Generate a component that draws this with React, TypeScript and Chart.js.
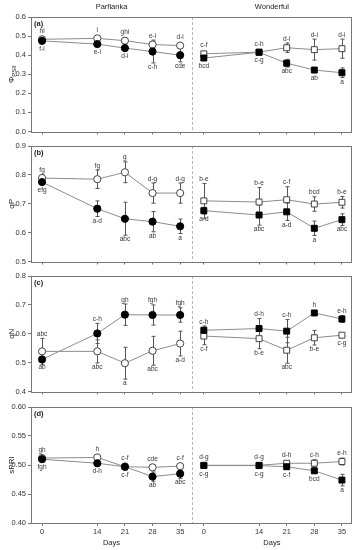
import React, { useEffect, useRef } from 'react';
import { Chart, registerables } from 'chart.js';
Chart.register(...registerables);

const FONT = '"Liberation Sans", Arial, sans-serif';

// Sampling days and x-axis layout
const days = [0, 14, 21, 28, 35];
const WON_OFFSET = 41; // Wonderful half shifted along the shared x scale
const X_MIN = -2.8;
const X_MAX = 78.5;
const DIVIDER = 38;
const cultivars = ['Parfianka', 'Wonderful'];

// (a) ΦPSII
const phiParOpen = [0.483, 0.488, 0.476, 0.456, 0.45];
const phiParOpenErr = [0.008, 0.01, 0.01, 0.012, 0.01];
const phiParOpenLet = ['hi', 'i', 'ghi', 'e-i', 'd-i'];
const phiParFilled = [0.475, 0.458, 0.437, 0.419, 0.4];
const phiParFilledErr = [0.008, 0.01, 0.015, 0.06, 0.035];
const phiParFilledLet = ['f-i', 'e-i', 'd-i', 'c-h', 'cde'];
const phiWonOpen = [0.407, 0.416, 0.439, 0.429, 0.434];
const phiWonOpenErr = [0.012, 0.01, 0.025, 0.055, 0.05];
const phiWonOpenLet = ['c-f', 'c-h', 'd-i', 'd-i', 'd-i'];
const phiWonFilled = [0.385, 0.415, 0.358, 0.322, 0.308];
const phiWonFilledErr = [0.01, 0.01, 0.02, 0.01, 0.025];
const phiWonFilledLet = ['bcd', 'c-g', 'abc', 'ab', 'a'];

// (b) qP
const qpParOpen = [0.789, 0.785, 0.809, 0.737, 0.737];
const qpParOpenErr = [0.01, 0.032, 0.036, 0.035, 0.035];
const qpParOpenLet = ['fg', 'fg', 'g', 'd-g', 'd-g'];
const qpParFilled = [0.775, 0.683, 0.648, 0.638, 0.622];
const qpParFilledErr = [0.008, 0.027, 0.057, 0.035, 0.025];
const qpParFilledLet = ['efg', 'a-d', 'abc', 'ab', 'a'];
const qpWonOpen = [0.71, 0.706, 0.714, 0.699, 0.705];
const qpWonOpenErr = [0.06, 0.05, 0.045, 0.025, 0.02];
const qpWonOpenLet = ['b-e', 'b-e', 'c-f', 'bcd', 'b-e'];
const qpWonFilled = [0.676, 0.661, 0.672, 0.615, 0.645];
const qpWonFilledErr = [0.012, 0.035, 0.03, 0.025, 0.02];
const qpWonFilledLet = ['a-d', 'abc', 'a-d', 'a', 'abc'];

// (c) qN
const qnParOpen = [0.539, 0.539, 0.498, 0.541, 0.566];
const qnParOpenErr = [0.045, 0.04, 0.055, 0.05, 0.043];
const qnParOpenLet = ['abc', 'abc', 'a', 'abc', 'a-d'];
const qnParFilled = [0.511, 0.601, 0.666, 0.665, 0.665];
const qnParFilledErr = [0.01, 0.035, 0.037, 0.035, 0.025];
const qnParFilledLet = ['ab', 'c-h', 'gh', 'fgh', 'fgh'];
const qnWonOpen = [0.592, 0.583, 0.543, 0.586, 0.595];
const qnWonOpenErr = [0.03, 0.035, 0.045, 0.025, 0.005];
const qnWonOpenLet = ['c-f', 'b-e', 'abc', 'b-e', 'c-g'];
const qnWonFilled = [0.612, 0.618, 0.609, 0.672, 0.651];
const qnWonFilledErr = [0.015, 0.035, 0.04, 0.005, 0.012];
const qnWonFilledLet = ['c-h', 'd-h', 'c-h', 'h', 'e-h'];

// (d) sPRI
const spriParOpen = [0.512, 0.513, 0.497, 0.496, 0.498];
const spriParOpenErr = [0.003, 0.004, 0.003, 0.004, 0.004];
const spriParOpenLet = ['gh', 'h', 'c-f', 'cde', 'c-f'];
const spriParFilled = [0.51, 0.503, 0.497, 0.48, 0.485];
const spriParFilledErr = [0.003, 0.005, 0.006, 0.008, 0.008];
const spriParFilledLet = ['fgh', 'd-h', 'c-f', 'ab', 'abc'];
const spriWonOpen = [0.4995, 0.4995, 0.503, 0.503, 0.506];
const spriWonOpenErr = [0.002, 0.002, 0.003, 0.006, 0.006];
const spriWonOpenLet = ['d-g', 'd-g', 'd-h', 'c-h', 'e-h'];
const spriWonFilled = [0.499, 0.499, 0.497, 0.49, 0.474];
const spriWonFilledErr = [0.002, 0.002, 0.004, 0.004, 0.01];
const spriWonFilledLet = ['c-g', 'c-g', 'c-f', 'bcd', 'a'];

interface PanelSpec {
  tag: string; yTitle: string; ySub?: string;
  min: number; max: number; step: number; dec: number;
  po: number[]; poE: number[]; poL: string[];
  pf: number[]; pfE: number[]; pfL: string[];
  wo: number[]; woE: number[]; woL: string[];
  wf: number[]; wfE: number[]; wfL: string[];
  top: number; height: number; padTop: number; axisH: number;
  titles?: boolean; xLabels?: boolean;
}

const panels: PanelSpec[] = [
  { tag: '(a)', yTitle: 'Φ', ySub: 'PSII', min: 0, max: 0.6, step: 0.1, dec: 1,
    po: phiParOpen, poE: phiParOpenErr, poL: phiParOpenLet, pf: phiParFilled, pfE: phiParFilledErr, pfL: phiParFilledLet,
    wo: phiWonOpen, woE: phiWonOpenErr, woL: phiWonOpenLet, wf: phiWonFilled, wfE: phiWonFilledErr, wfL: phiWonFilledLet,
    top: 0, height: 138, padTop: 17, axisH: 6, titles: true },
  { tag: '(b)', yTitle: 'qP', min: 0.5, max: 0.9, step: 0.1, dec: 1,
    po: qpParOpen, poE: qpParOpenErr, poL: qpParOpenLet, pf: qpParFilled, pfE: qpParFilledErr, pfL: qpParFilledLet,
    wo: qpWonOpen, woE: qpWonOpenErr, woL: qpWonOpenLet, wf: qpWonFilled, wfE: qpWonFilledErr, wfL: qpWonFilledLet,
    top: 138, height: 130, padTop: 8, axisH: 6 },
  { tag: '(c)', yTitle: 'qN', min: 0.4, max: 0.8, step: 0.1, dec: 1,
    po: qnParOpen, poE: qnParOpenErr, poL: qnParOpenLet, pf: qnParFilled, pfE: qnParFilledErr, pfL: qnParFilledLet,
    wo: qnWonOpen, woE: qnWonOpenErr, woL: qnWonOpenLet, wf: qnWonFilled, wfE: qnWonFilledErr, wfL: qnWonFilledLet,
    top: 268, height: 130, padTop: 8, axisH: 6 },
  { tag: '(d)', yTitle: 'sPRI', min: 0.4, max: 0.6, step: 0.05, dec: 2,
    po: spriParOpen, poE: spriParOpenErr, poL: spriParOpenLet, pf: spriParFilled, pfE: spriParFilledErr, pfL: spriParFilledLet,
    wo: spriWonOpen, woE: spriWonOpenErr, woL: spriWonOpenLet, wf: spriWonFilled, wfE: spriWonFilledErr, wfL: spriWonFilledLet,
    top: 398, height: 152, padTop: 9, axisH: 27, xLabels: true },
];

const tickVals = [...days, ...days.map((d) => d + WON_OFFSET)];

const framePlugin = {
  id: 'frame',
  beforeDatasetsDraw(chart: any) {
    const { ctx, chartArea: a } = chart;
    const x = chart.scales.x;
    ctx.save();
    const dx = Math.round(x.getPixelForValue(DIVIDER)) + 0.5;
    ctx.strokeStyle = '#b8b8b8';
    ctx.lineWidth = 1;
    ctx.setLineDash([3, 2]);
    ctx.beginPath();
    ctx.moveTo(dx, a.top);
    ctx.lineTo(dx, a.bottom);
    ctx.stroke();
    ctx.setLineDash([]);
    ctx.strokeStyle = '#777';
    ctx.strokeRect(Math.round(a.left) + 0.5, Math.round(a.top) + 0.5, Math.round(a.right - a.left) - 1, Math.round(a.bottom - a.top));
    // error bars
    const y = chart.scales.y;
    ctx.strokeStyle = '#555';
    chart.data.datasets.forEach((d: any) => {
      d.data.forEach((p: any, i: number) => {
        const e = d.err[i];
        if (!e) return;
        const px = Math.round(x.getPixelForValue(p.x)) + 0.5;
        const y1 = y.getPixelForValue(p.y + e);
        const y2 = y.getPixelForValue(p.y - e);
        ctx.beginPath();
        ctx.moveTo(px, y1); ctx.lineTo(px, y2);
        ctx.moveTo(px - 2, y1); ctx.lineTo(px + 2, y1);
        ctx.moveTo(px - 2, y2); ctx.lineTo(px + 2, y2);
        ctx.stroke();
      });
    });
    ctx.restore();
  },
  afterDatasetsDraw(chart: any, _args: any, opts: any) {
    const { ctx, chartArea: a } = chart;
    const x = chart.scales.x;
    const y = chart.scales.y;
    ctx.save();
    ctx.fillStyle = '#333';
    ctx.font = `6.5px ${FONT}`;
    ctx.textAlign = 'center';
    chart.data.datasets.forEach((d: any) => {
      d.data.forEach((p: any, i: number) => {
        const other = d.other[i];
        const above = d.isOpen ? p.y >= other : p.y > other;
        const px = x.getPixelForValue(p.x);
        const py = y.getPixelForValue(p.y);
        const e = d.err[i] || 0;
        if (above) {
          ctx.textBaseline = 'bottom';
          const ly = Math.min(y.getPixelForValue(p.y + e) - 1, py - 5);
          ctx.fillText(d.letters[i], px, ly);
        } else {
          ctx.textBaseline = 'top';
          const ly = Math.max(y.getPixelForValue(p.y - e) + 1, py + 5);
          ctx.fillText(d.letters[i], px, ly);
        }
      });
    });
    // panel tag
    ctx.font = `bold 7.5px ${FONT}`;
    ctx.textAlign = 'left';
    ctx.textBaseline = 'top';
    ctx.fillStyle = '#222';
    ctx.fillText(opts.tag, a.left + 3, a.top + 3);
    // y title
    ctx.translate(12, (a.top + a.bottom) / 2);
    ctx.rotate(-Math.PI / 2);
    ctx.textBaseline = 'middle';
    ctx.font = `8px ${FONT}`;
    const w1 = ctx.measureText(opts.yTitle).width;
    let w2 = 0;
    if (opts.ySub) {
      ctx.font = `6px ${FONT}`;
      w2 = ctx.measureText(opts.ySub).width;
    }
    const sx = -(w1 + w2) / 2;
    ctx.font = `8px ${FONT}`;
    ctx.fillText(opts.yTitle, sx, 0);
    if (opts.ySub) {
      ctx.font = `6px ${FONT}`;
      ctx.fillText(opts.ySub, sx + w1, 2);
    }
    ctx.restore();
    // cultivar titles / Days
    ctx.save();
    ctx.fillStyle = '#222';
    ctx.textAlign = 'center';
    ctx.textBaseline = 'middle';
    ctx.font = `7.5px ${FONT}`;
    const divPx = x.getPixelForValue(DIVIDER);
    const centers = [(a.left + divPx) / 2, (divPx + a.right) / 2];
    if (opts.titles) {
      cultivars.forEach((c, i) => ctx.fillText(c, centers[i], 7));
    }
    if (opts.xLabels) {
      centers.forEach((cx) => ctx.fillText('Days', cx, a.bottom + 20));
    }
    ctx.restore();
  },
};

function buildDataset(vals: number[], errs: number[], lets: string[], other: number[], off: number, style: string, isOpen: boolean) {
  return {
    data: days.map((d, i) => ({ x: d + off, y: vals[i] })),
    err: errs, letters: lets, other, isOpen,
    borderColor: '#8c8c8c',
    borderWidth: 1,
    pointStyle: style,
    pointRadius: style === 'circle' ? 3.6 : 4.2,
    pointBackgroundColor: isOpen ? '#fff' : '#000',
    pointBorderColor: isOpen ? '#444' : '#000',
    pointBorderWidth: 1,
    fill: false,
    tension: 0,
  };
}

function Panel({ spec }: { spec: PanelSpec }) {
  const ref = useRef<HTMLCanvasElement>(null);
  useEffect(() => {
    if (!ref.current) return;
    const s = spec;
    const chart = new Chart(ref.current, {
      type: 'line',
      data: {
        datasets: [
          buildDataset(s.pf, s.pfE, s.pfL, s.po, 0, 'circle', false),
          buildDataset(s.po, s.poE, s.poL, s.pf, 0, 'circle', true),
          buildDataset(s.wf, s.wfE, s.wfL, s.wo, WON_OFFSET, 'rect', false),
          buildDataset(s.wo, s.woE, s.woL, s.wf, WON_OFFSET, 'rect', true),
        ] as any,
      },
      options: {
        responsive: false,
        animation: false,
        devicePixelRatio: 1,
        events: [],
        layout: { padding: { top: s.padTop, right: 3, left: 0, bottom: 0 } },
        plugins: {
          legend: { display: false },
          tooltip: { enabled: false },
          frame: { tag: s.tag, yTitle: s.yTitle, ySub: s.ySub, titles: s.titles, xLabels: s.xLabels },
        } as any,
        scales: {
          x: {
            type: 'linear',
            min: X_MIN,
            max: X_MAX,
            afterBuildTicks: (sc: any) => { sc.ticks = tickVals.map((v) => ({ value: v })); },
            afterFit: (sc: any) => { sc.height = s.axisH; },
            ticks: {
              display: !!s.xLabels,
              autoSkip: false,
              maxRotation: 0,
              padding: 1,
              color: '#333',
              font: { family: FONT, size: 7.5 },
              callback: (v: any) => String(v >= WON_OFFSET - 3 ? v - WON_OFFSET : v),
            },
            grid: { display: true, drawOnChartArea: false, drawTicks: true, tickLength: 3, color: '#777' },
            border: { display: false },
          },
          y: {
            type: 'linear',
            min: s.min,
            max: s.max,
            afterFit: (sc: any) => { sc.width = 31; },
            ticks: {
              stepSize: s.step,
              padding: 2,
              color: '#333',
              font: { family: FONT, size: 7.5 },
              callback: (v: any) => Number(v).toFixed(s.dec),
            },
            grid: { display: true, drawOnChartArea: false, drawTicks: true, tickLength: 3, color: '#777' },
            border: { display: false },
          },
        },
      } as any,
      plugins: [framePlugin],
    });
    return () => chart.destroy();
  }, [spec]);
  return (
    <canvas
      ref={ref}
      width={357}
      height={spec.height}
      style={{ position: 'absolute', left: 0, top: spec.top, width: 357, height: spec.height }}
    />
  );
}

export default function App() {
  return (
    <div style={{ position: 'absolute', left: 0, top: 0, width: 357, height: 550, background: '#fff' }}>
      {panels.map((p) => (
        <Panel key={p.tag} spec={p} />
      ))}
    </div>
  );
}
